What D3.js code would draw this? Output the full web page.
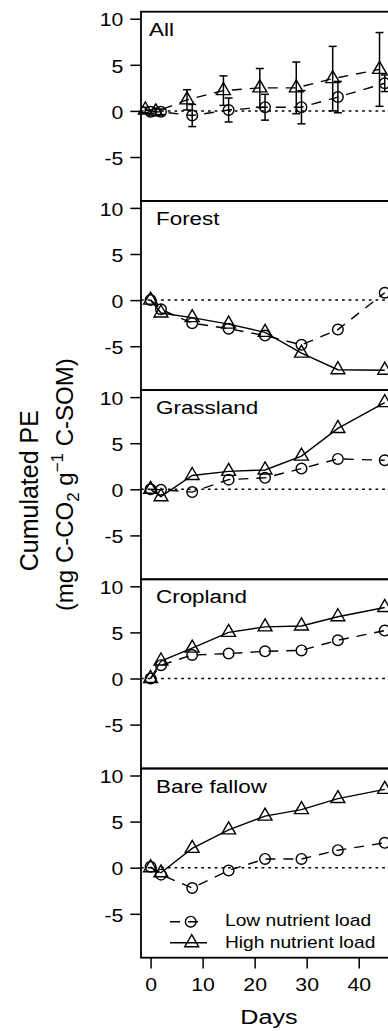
<!DOCTYPE html>
<html>
<head>
<meta charset="utf-8">
<script src="https://cdn.jsdelivr.net/npm/d3@7"></script>
<style>
  body { margin: 0; background: #fff; }
  text { font-family: "Liberation Sans", Arial, Helvetica, sans-serif; fill: #000; }
</style>
</head>
<body>
<div id="chart"></div>
<script>

const days = [0, 2, 8, 15, 22, 29, 36, 45];
const panels = ["All", "Forest", "Grassland", "Cropland", "Bare fallow"];

// Low nutrient load (circles), High nutrient load (triangles)
const lowAll = [-0.1, -0.1, -0.5, 0.1, 0.4, 0.4, 1.5, 3.0];
const highAll = [0.1, -0.1, 1.2, 2.2, 2.5, 2.5, 3.5, 4.5];
const lowAllErr = [0.2, 0.3, 1.2, 1.3, 1.4, 1.8, 1.7, 0.9];
const highAllErr = [0.3, 0.4, 1.1, 1.6, 2.1, 2.8, 3.5, 4.0];

const lowForest = [0.0, -1.0, -2.5, -3.1, -3.85, -4.85, -3.2, 0.8];
const highForest = [0.0, -1.4, -1.9, -2.6, -3.5, -5.75, -7.55, -7.6];

const lowGrass = [0.0, -0.05, -0.3, 1.05, 1.25, 2.25, 3.3, 3.15];
const highGrass = [0.0, -0.8, 1.5, 1.95, 2.1, 3.6, 6.6, 9.4];

const lowCrop = [0.0, 1.45, 2.55, 2.7, 2.95, 3.05, 4.15, 5.2];
const highCrop = [0.0, 1.9, 3.3, 5.0, 5.6, 5.7, 6.7, 7.7];

const lowBare = [0.1, -0.75, -2.2, -0.3, 0.95, 0.95, 1.9, 2.7];
const highBare = [0.0, -0.55, 2.1, 4.1, 5.6, 6.3, 7.5, 8.5];

const yTicks = [-5, 0, 5, 10];
const xTicks = [0, 10, 20, 30, 40];
const legendLabels = ["Low nutrient load", "High nutrient load"];

const table = [
    {name: panels[0], low: lowAll, high: highAll, lowErr: lowAllErr, highErr: highAllErr},
    {name: panels[1], low: lowForest, high: highForest},
    {name: panels[2], low: lowGrass, high: highGrass},
    {name: panels[3], low: lowCrop, high: highCrop},
    {name: panels[4], low: lowBare, high: highBare}
];

const width = 388;
const height = 1031;
const left = 141;
const panelTop = 11.7;
const panelH = 189.2;
const sx = 1.18;   // text in the figure is a bit wide

const x = d3.scaleLinear().domain([-1.84, 47.84]).range([left, 399.5]);

const svg = d3.select("#chart")
    .append("svg")
    .attr("width", width)
    .attr("height", height);

svg.append("rect").attr("width", width).attr("height", height).attr("fill", "#fff");

const triangle = "M0,-8L6.93,4L-6.93,4Z";

table.forEach(function(p, i) {
    const top = panelTop + i * panelH;
    const y = d3.scaleLinear().domain([-9.76, 10.76]).range([top + panelH, top]);
    const g = svg.append("g").attr("class", "panel");
    // "All" panel: triangles dodged one day left
    const shift = p.highErr ? -1 : 0;

    g.append("line")
        .attr("x1", left).attr("x2", x.range()[1])
        .attr("y1", y(0)).attr("y2", y(0))
        .attr("stroke", "#000").attr("stroke-width", 1.5)
        .attr("stroke-dasharray", "2.7,4");

    // error bars
    if (p.lowErr) {
        const bars = [];
        days.forEach((d, j) => {
            bars.push({x: x(d), lo: y(p.low[j] - p.lowErr[j]), hi: y(p.low[j] + p.lowErr[j])});
            bars.push({x: x(d + shift), lo: y(p.high[j] - p.highErr[j]), hi: y(p.high[j] + p.highErr[j])});
        });
        const eb = g.selectAll(".err").data(bars).enter().append("g")
            .attr("class", "err")
            .attr("stroke", "#000").attr("stroke-width", 1.5);
        eb.append("line").attr("x1", d => d.x).attr("x2", d => d.x)
            .attr("y1", d => d.lo).attr("y2", d => d.hi);
        eb.append("line").attr("x1", d => d.x - 4).attr("x2", d => d.x + 4)
            .attr("y1", d => d.lo).attr("y2", d => d.lo);
        eb.append("line").attr("x1", d => d.x - 4).attr("x2", d => d.x + 4)
            .attr("y1", d => d.hi).attr("y2", d => d.hi);
    }

    const lineLow = d3.line().x((d, j) => x(days[j])).y(d => y(d));
    const lineHigh = d3.line().x((d, j) => x(days[j] + shift)).y(d => y(d));

    g.append("path")
        .attr("d", lineLow(p.low))
        .attr("fill", "none").attr("stroke", "#000").attr("stroke-width", 1.4)
        .attr("stroke-dasharray", "10,8");

    g.append("path")
        .attr("d", lineHigh(p.high))
        .attr("fill", "none").attr("stroke", "#000").attr("stroke-width", 1.4)
        .attr("stroke-dasharray", p.highErr ? "10,8" : null);

    g.selectAll(".low").data(p.low).enter().append("circle")
        .attr("class", "low")
        .attr("cx", (d, j) => x(days[j]))
        .attr("cy", d => y(d))
        .attr("r", 5.3)
        .attr("fill", "none").attr("stroke", "#000").attr("stroke-width", 1.4);

    g.selectAll(".high").data(p.high).enter().append("path")
        .attr("class", "high")
        .attr("d", triangle)
        .attr("transform", (d, j) => "translate(" + x(days[j] + shift) + "," + y(d) + ")")
        .attr("fill", "none").attr("stroke", "#000").attr("stroke-width", 1.4);

    // box
    g.append("rect")
        .attr("x", left).attr("y", top)
        .attr("width", x.range()[1] - left).attr("height", panelH)
        .attr("fill", "none").attr("stroke", "#000").attr("stroke-width", 1.8);

    g.append("text")
        .attr("transform", "translate(" + (i === 0 ? left + 8 : left + 15) + "," + (top + 24) + ") scale(" + sx + ",1)")
        .attr("font-size", 19)
        .text(p.name);

    const ya = g.append("g")
        .attr("transform", "translate(" + left + ",0)")
        .call(d3.axisLeft(y).tickValues(yTicks).tickSize(10.7).tickPadding(7).tickSizeOuter(0));
    ya.select(".domain").remove();
    ya.selectAll(".tick line").attr("stroke-width", 1.5);
    ya.selectAll(".tick text")
        .attr("font-size", 18)
        .attr("font-family", null)
        .attr("x", -17.7 / sx)
        .attr("dy", "0.4em")
        .attr("transform", "scale(" + sx + ",1)")
        .text(d => d < 0 ? "-" + Math.abs(d) : d);

    if (i === table.length - 1) {
        const bottom = top + panelH;
        const xa = g.append("g")
            .attr("transform", "translate(0," + bottom + ")")
            .call(d3.axisBottom(x).tickValues(xTicks).tickSize(10.7).tickPadding(9.6).tickSizeOuter(0));
        xa.select(".domain").remove();
        xa.selectAll(".tick line").attr("stroke-width", 1.5);
        xa.selectAll(".tick text")
            .attr("font-size", 18)
            .attr("font-family", null)
            .attr("transform", "scale(" + sx + ",1)");

        // legend
        const lg = g.append("g").attr("class", "legend");
        lg.append("line").attr("x1", 170).attr("x2", 200)
            .attr("y1", 921.7).attr("y2", 921.7)
            .attr("stroke", "#000").attr("stroke-width", 1.4).attr("stroke-dasharray", "10,8");
        lg.append("circle").attr("cx", 190.7).attr("cy", 921.7).attr("r", 5.3)
            .attr("fill", "none").attr("stroke", "#000").attr("stroke-width", 1.4);
        lg.append("line").attr("x1", 170).attr("x2", 207)
            .attr("y1", 942.7).attr("y2", 942.7)
            .attr("stroke", "#000").attr("stroke-width", 1.4);
        lg.append("path").attr("d", triangle)
            .attr("transform", "translate(191.7,942.7)")
            .attr("fill", "none").attr("stroke", "#000").attr("stroke-width", 1.4);
        lg.selectAll(".lt").data(legendLabels).enter().append("text")
            .attr("class", "lt")
            .attr("transform", (d, j) => "translate(225," + (926 + j * 21.7) + ") scale(1.2,1)")
            .attr("font-size", 16)
            .text(d => d);
    }
});

// axis titles
const midY = panelTop + panelH * table.length / 2;

svg.append("text")
    .attr("transform", "translate(269,1024) scale(1.2,1)")
    .attr("text-anchor", "middle")
    .attr("font-size", 21)
    .text("Days");

svg.append("text")
    .attr("transform", "translate(38," + (midY + 6) + ") rotate(-90)")
    .attr("text-anchor", "middle")
    .attr("font-size", 25)
    .text("Cumulated PE");

const t2 = svg.append("text")
    .attr("transform", "translate(73," + midY + ") rotate(-90)")
    .attr("text-anchor", "middle")
    .attr("font-size", 24);
t2.append("tspan").text("(mg C-CO");
t2.append("tspan").attr("font-size", 17).attr("dy", 6).text("2");
t2.append("tspan").attr("dy", -6).text(" g");
t2.append("tspan").attr("font-size", 17).attr("dy", -10).text("\u22121");
t2.append("tspan").attr("dy", 10).text(" C-SOM)");

</script>
</body>
</html>
